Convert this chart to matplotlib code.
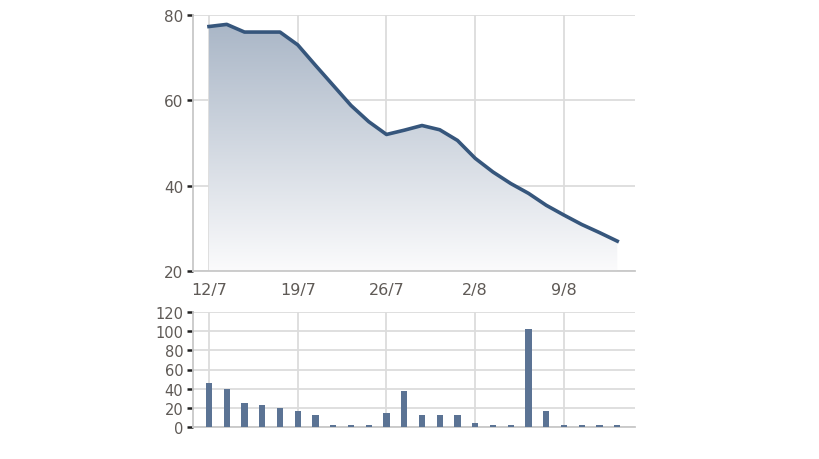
"""Price + volume chart, 12/7 - 12/8."""

import matplotlib

matplotlib.use("Agg")
import matplotlib.pyplot as plt
import numpy as np
from matplotlib.colors import LinearSegmentedColormap

# trading-day index 0..23, labels every 5 sessions
tick_idx = [0, 5, 10, 15, 20]
tick_labels = ["12/7", "19/7", "26/7", "2/8", "9/8"]

price = [77.3, 77.8, 76.0, 76.0, 76.0, 73.0, 68.2, 63.5, 58.8, 55.0, 52.0, 53.0,
         54.1, 53.1, 50.6, 46.4, 43.2, 40.5, 38.2, 35.4, 33.1, 30.9, 29.0, 27.0]
volume = [46, 40, 25, 23, 19.5, 17, 12.5, 2.5, 2.5, 2.5, 15, 38,
          12.5, 12.5, 12.5, 4, 2, 2, 102, 17, 2, 2, 2, 2]

LINE = "#36567c"
BAR = "#5b7394"
GRID = "#dcdcdc"
SPINE = "#c8c8c8"
LABEL = "#5f5a56"

W, H = 819, 460
fig = plt.figure(figsize=(W / 100, H / 100), dpi=100)
fig.patch.set_facecolor("white")


def px_axes(left, top, right, bottom):
    return fig.add_axes([left / W, 1 - bottom / H, (right - left) / W, (bottom - top) / H])


x = np.arange(len(price))
xlim = (-0.9, 24.0)

# ---- price panel
ax = px_axes(193, 16, 635, 272)
ax.set_xlim(*xlim)
ax.set_ylim(20, 80)

cmap = LinearSegmentedColormap.from_list("fade", ["#fbfbfc", "#a7b4c5"])
grad = np.linspace(0, 1, 256).reshape(-1, 1)
img = ax.imshow(grad, aspect="auto", cmap=cmap, origin="lower",
                extent=(x[0], x[-1], 20, 80), zorder=1)
poly = ax.fill_between(x, price, 20, color="none", zorder=1)
img.set_clip_path(poly.get_paths()[0], transform=ax.transData)
ax.plot(x, price, color=LINE, linewidth=2.6, solid_joinstyle="round", zorder=3)

ax.set_yticks([20, 40, 60, 80])
ax.set_xticks(tick_idx)
ax.set_xticklabels(tick_labels)
ax.grid(True, color=GRID, linewidth=1.3, zorder=0)
ax.set_axisbelow(True)
for side in ("top", "right"):
    ax.spines[side].set_visible(False)
for side in ("left", "bottom"):
    ax.spines[side].set_color(SPINE)
    ax.spines[side].set_linewidth(1.3)
ax.tick_params(axis="y", length=4, width=1.8, color="#222222", labelsize=11,
               labelcolor=LABEL, pad=3)
ax.tick_params(axis="x", length=0, labelsize=11.5, labelcolor=LABEL, pad=8)

# ---- volume panel
bx = px_axes(193, 313, 635, 428)
bx.set_xlim(*xlim)
bx.set_ylim(0, 120)
bx.bar(x, volume, width=0.36, color=BAR, zorder=3)
bx.set_yticks(range(0, 121, 20))
bx.set_xticks(tick_idx)
bx.set_xticklabels([])
bx.grid(True, color=GRID, linewidth=1.3, zorder=0)
bx.set_axisbelow(True)
for side in ("top", "right"):
    bx.spines[side].set_visible(False)
for side in ("left", "bottom"):
    bx.spines[side].set_color(SPINE)
    bx.spines[side].set_linewidth(1.3)
bx.tick_params(axis="y", length=4, width=1.8, color="#222222", labelsize=10.5,
               labelcolor=LABEL, pad=3)
bx.tick_params(axis="x", length=0)

fig.savefig("out.png", dpi=100, facecolor="white")
